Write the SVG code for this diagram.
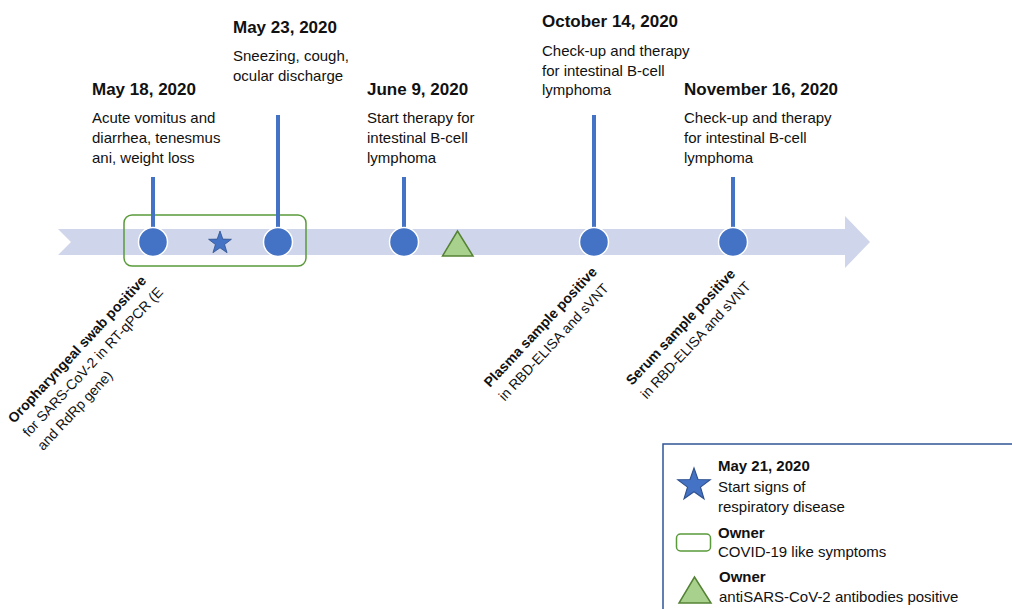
<svg xmlns="http://www.w3.org/2000/svg" width="1012" height="609" viewBox="0 0 1012 609">
<style>
text{font-family:"Liberation Sans",Arial,sans-serif;fill:#111}
.date{font-size:17px;font-weight:bold}
.body{font-size:15px}
.rot{font-size:14px}
.rb{font-weight:bold}
.lgb{font-size:15px;font-weight:bold}
.stem{stroke:#4472C4;stroke-width:4}
.dot{fill:#4472C4;stroke:#fff;stroke-width:1.5}
.star{fill:#4472C4;stroke:#2F528F;stroke-width:0.8}
.tri{fill:#A9D18E;stroke:#548235;stroke-width:1.5}
</style>
<defs>
<path id="starShape" d="M0,-12 L2.82,-3.88 L11.41,-3.71 L4.57,1.48 L7.05,9.71 L0,4.8 L-7.05,9.71 L-4.57,1.48 L-11.41,-3.71 L-2.82,-3.88 Z"/>
</defs>
<rect width="1012" height="609" fill="#fff"/>
<g id="timeline">
<path d="M58,229 L845,229 L845,216 L870,242 L845,268 L845,255 L58,255 L71,242 Z" fill="#CFD5EA"/>
</g>
<g id="covid-period">
<rect x="124" y="215" width="182" height="51" rx="8" fill="none" stroke="#5A9A3A" stroke-width="1.5"/>
</g>
<g id="connectors">
<line class="stem" x1="153" y1="177" x2="153" y2="242"/>
<line class="stem" x1="278" y1="115" x2="278" y2="242"/>
<line class="stem" x1="404" y1="177" x2="404" y2="242"/>
<line class="stem" x1="594" y1="115" x2="594" y2="242"/>
<line class="stem" x1="733" y1="177" x2="733" y2="242"/>
</g>
<g id="event-may18">
<circle class="dot" cx="153" cy="242" r="14.5"/>
<text class="date" x="92" y="95">May 18, 2020</text>
<text class="body" x="92" y="123">Acute vomitus and</text>
<text class="body" x="92" y="143">diarrhea, tenesmus</text>
<text class="body" x="92" y="163">ani, weight loss</text>
<text class="rot" transform="translate(14,424) rotate(-47)"><tspan class="rb" x="0" y="0">Oropharyngeal swab positive</tspan><tspan x="0" y="20">for SARS-CoV-2 in RT-qPCR (E</tspan><tspan x="0" y="40">and RdRp gene)</tspan></text>
</g>
<g id="event-may21">
<use href="#starShape" class="star" transform="translate(220,243)"/>
</g>
<g id="event-may23">
<circle class="dot" cx="278" cy="242" r="14.5"/>
<text class="date" x="233" y="33">May 23, 2020</text>
<text class="body" x="233" y="61">Sneezing, cough,</text>
<text class="body" x="233" y="81">ocular discharge</text>
</g>
<g id="event-jun9">
<circle class="dot" cx="404" cy="242" r="14.5"/>
<text class="date" x="367" y="95">June 9, 2020</text>
<text class="body" x="367" y="123">Start therapy for</text>
<text class="body" x="367" y="143">intestinal B-cell</text>
<text class="body" x="367" y="163">lymphoma</text>
</g>
<g id="event-antibodies">
<polygon class="tri" points="442.5,256 473,256 457.5,231"/>
</g>
<g id="event-oct14">
<circle class="dot" cx="594" cy="242" r="14.5"/>
<text class="date" x="542" y="27">October 14, 2020</text>
<text class="body" x="542" y="56">Check-up and therapy</text>
<text class="body" x="542" y="76">for intestinal B-cell</text>
<text class="body" x="542" y="95">lymphoma</text>
<text class="rot" transform="translate(490,388) rotate(-47)"><tspan class="rb" x="0" y="0">Plasma sample positive</tspan><tspan x="0" y="20">in RBD-ELISA and sVNT</tspan></text>
</g>
<g id="event-nov16">
<circle class="dot" cx="733" cy="242" r="14.5"/>
<text class="date" x="684" y="95">November 16, 2020</text>
<text class="body" x="684" y="123">Check-up and therapy</text>
<text class="body" x="684" y="143">for intestinal B-cell</text>
<text class="body" x="684" y="163">lymphoma</text>
<text class="rot" transform="translate(632,386) rotate(-47)"><tspan class="rb" x="0" y="0">Serum sample positive</tspan><tspan x="0" y="20">in RBD-ELISA and sVNT</tspan></text>
</g>
<g id="legend">
<rect x="663" y="444" width="360" height="180" fill="#fff" stroke="#2F5597" stroke-width="1.5"/>
<use href="#starShape" class="star" transform="translate(694,485) scale(1.42)"/>
<text class="lgb" x="718" y="471">May 21, 2020</text>
<text class="body" x="718" y="492">Start signs of</text>
<text class="body" x="718" y="512">respiratory disease</text>
<rect x="676.5" y="534" width="34" height="17" rx="4" fill="none" stroke="#5A9A3A" stroke-width="1.5"/>
<text class="lgb" x="718" y="538">Owner</text>
<text class="body" x="718" y="557">COVID-19 like symptoms</text>
<polygon class="tri" points="679,603 711,603 694.5,577"/>
<text class="lgb" x="719" y="582">Owner</text>
<text class="body" x="719" y="602">antiSARS-CoV-2 antibodies positive</text>
</g>
</svg>
